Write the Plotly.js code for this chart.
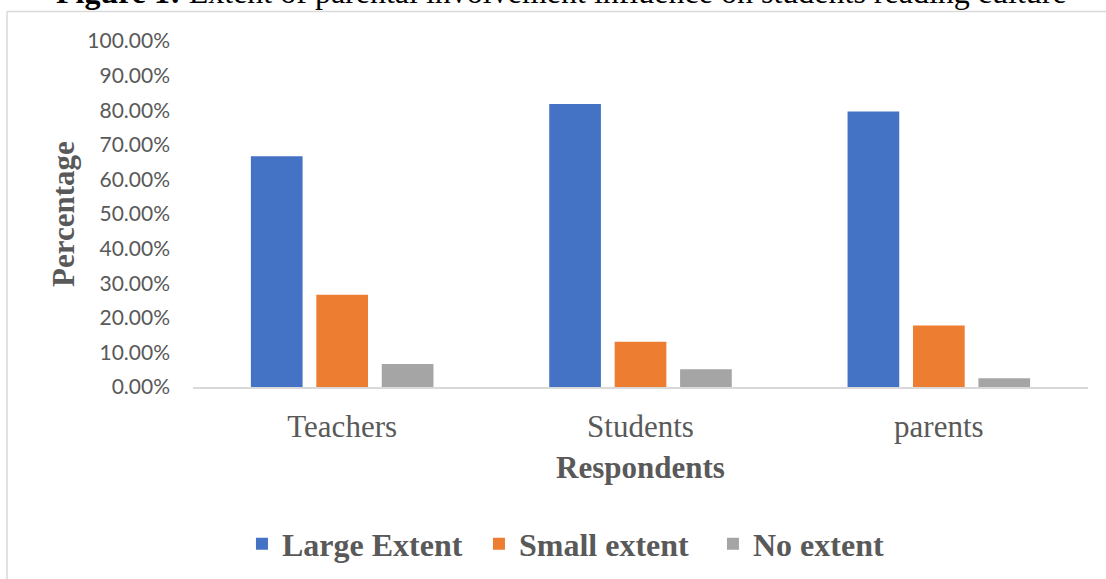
<!DOCTYPE html>
<html>
<head>
<meta charset="utf-8">
<script src="https://cdn.plot.ly/plotly-3.0.1.min.js"></script>
<style>
html,body{margin:0;padding:0;background:#fff;}
#chart{width:1106px;height:579px;}
</style>
</head>
<body>
<div id="chart"></div>
<script>
const categories = ["Teachers", "Students", "parents"];
const seriesNames = ["Large Extent", "Small extent", "No extent"];
const largeExtent = [0.6667, 0.818, 0.796];
const smallExtent = [0.2667, 0.131, 0.178];
const noExtent = [0.0667, 0.051, 0.025];
const seriesColors = ["#4472C4", "#ED7D31", "#A5A5A5"];
const yTickValues = [0, 0.1, 0.2, 0.3, 0.4, 0.5, 0.6, 0.7, 0.8, 0.9, 1.0];
const legendWidths = [192, 189, 0];

const seriesValues = [largeExtent, smallExtent, noExtent];
const serif = "Liberation Serif, Times New Roman, serif";
const gray = "#595959";

const traces = seriesValues.map((vals, i) => {
  const t = {
    type: "bar",
    name: seriesNames[i],
    x: categories,
    y: vals,
    marker: {color: seriesColors[i], line: {width: 0}},
    hoverinfo: "x+y+name"
  };
  if (legendWidths[i]) t.legendwidth = legendWidths[i];
  return t;
});

const layout = {
  width: 1106,
  height: 579,
  margin: {l: 193, r: 18, t: 41, b: 192, pad: 0},
  paper_bgcolor: "#ffffff",
  plot_bgcolor: "#ffffff",
  barmode: "group",
  bargap: 0.342,
  bargroupgap: 0.21,
  showlegend: true,
  legend: {
    orientation: "h",
    xref: "paper", yref: "container",
    x: 0.0547, xanchor: "left",
    y: 0.0604, yanchor: "middle",
    font: {family: serif, size: 32, color: gray, weight: "bold"},
    itemwidth: 30,
    traceorder: "normal"
  },
  xaxis: {
    type: "category",
    showgrid: false,
    showline: true,
    linecolor: "#d9d9d9",
    linewidth: 1.5,
    ticks: "",
    ticklabelstandoff: 11,
    tickfont: {family: serif, size: 31, color: gray},
    automargin: false,
    title: {text: "<b>Respondents</b>", font: {family: serif, size: 31, color: gray}, standoff: 13}
  },
  yaxis: {
    range: [0, 1],
    tickvals: yTickValues,
    tickformat: ".2%",
    showgrid: false,
    showline: false,
    zeroline: false,
    ticks: "",
    ticklabelstandoff: 22,
    tickfont: {family: "Lato, sans-serif", size: 21, color: gray},
    automargin: false,
    title: {text: "<b>Percentage</b>", font: {family: serif, size: 31, color: gray}, standoff: 3}
  },
  annotations: [{
    xref: "paper", yref: "paper",
    x: 0.412, y: 1.0835,
    xanchor: "center", yanchor: "bottom",
    showarrow: false,
    text: "<b>Figure 1:</b> Extent of parental involvement influence on students reading culture",
    font: {family: serif, size: 32, color: "#000000"}
  }],
  shapes: [
    {type: "line", xref: "paper", yref: "paper", x0: -0.2078, x1: -0.2078, y0: 1.0853, y1: -0.6, line: {color: "#d9d9d9", width: 1.5}},
    {type: "line", xref: "paper", yref: "paper", x0: -0.2078, x1: 1.05, y0: 1.0853, y1: 1.0853, line: {color: "#d9d9d9", width: 1.5}}
  ]
};

Plotly.newPlot("chart", traces, layout, {displayModeBar: false, staticPlot: true});
</script>
</body>
</html>
